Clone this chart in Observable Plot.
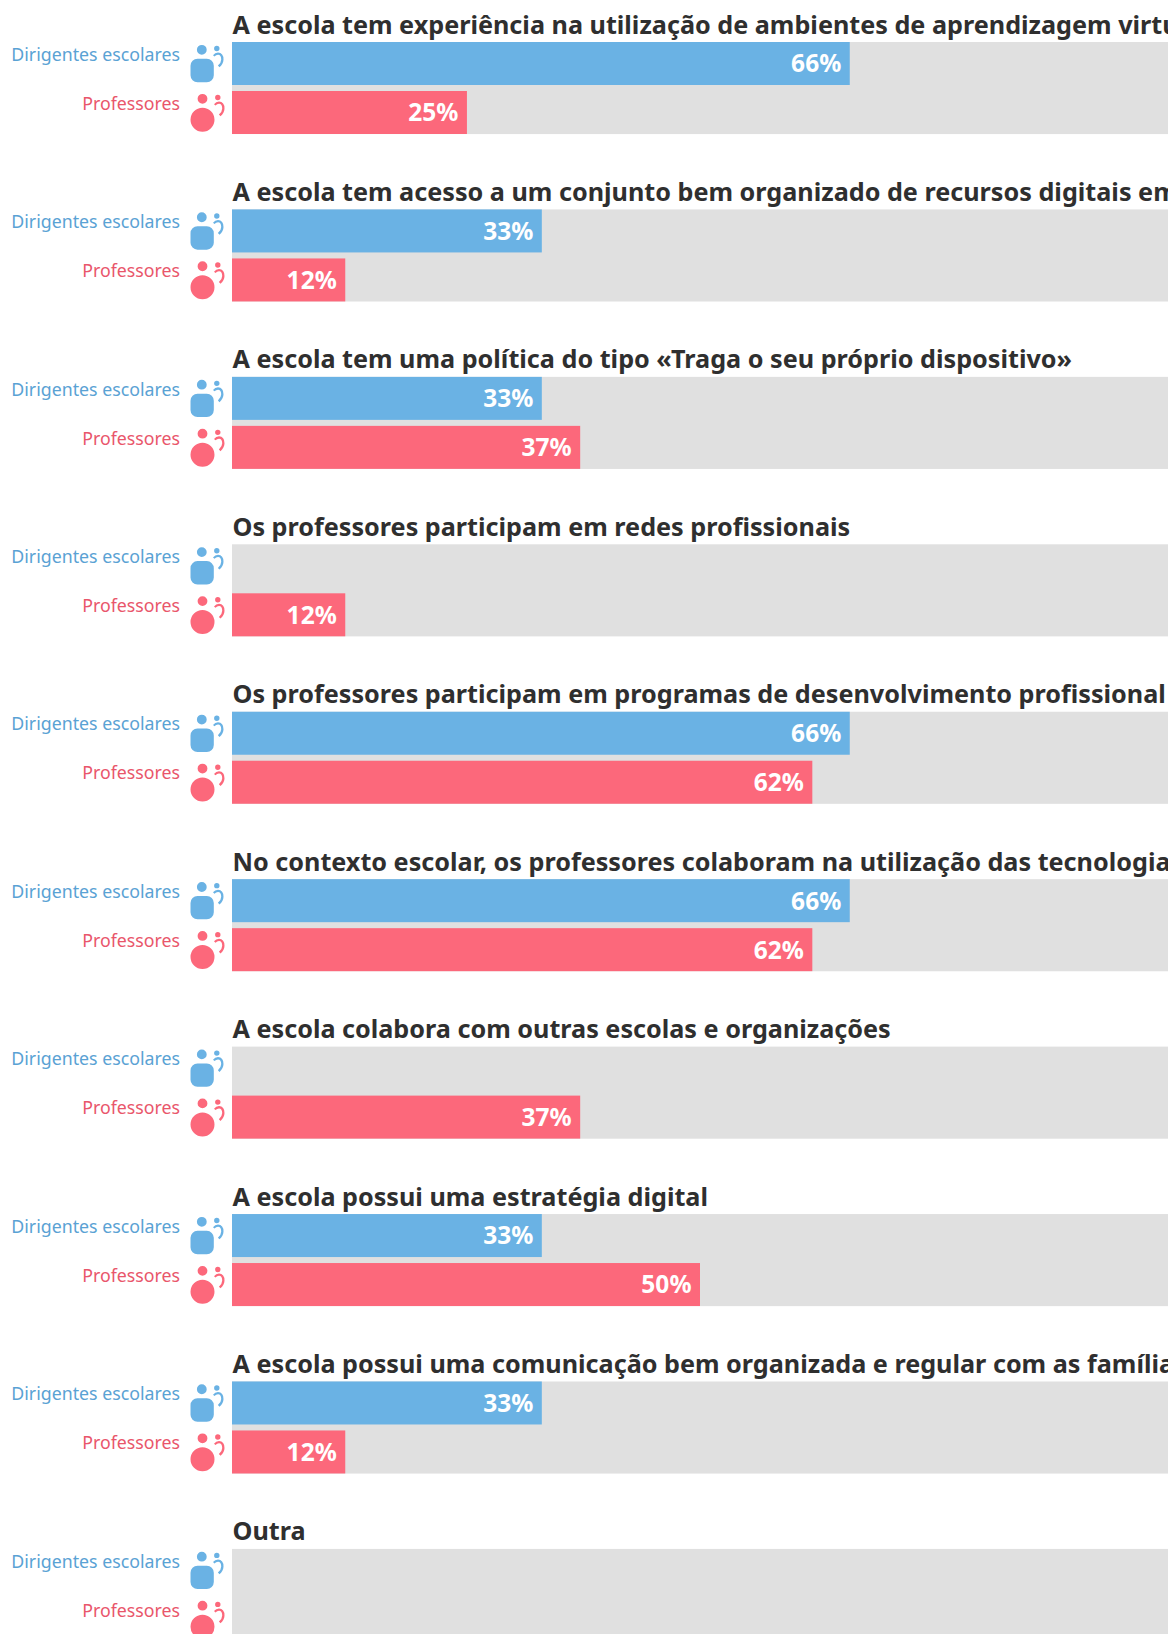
<!DOCTYPE html>
<html lang="pt">
<head>
<meta charset="utf-8">
<style>html,body{margin:0;padding:0;background:#fff;overflow:hidden}svg{display:block}</style>
<script src="https://cdn.jsdelivr.net/npm/d3@7"></script>
<script src="https://cdn.jsdelivr.net/npm/@observablehq/plot@0.6"></script>
</head>
<body>
<div id="chart"></div>
<script>
const questions = [
  "A escola tem experiência na utilização de ambientes de aprendizagem virtuais",
  "A escola tem acesso a um conjunto bem organizado de recursos digitais em linha",
  "A escola tem uma política do tipo «Traga o seu próprio dispositivo»",
  "Os professores participam em redes profissionais",
  "Os professores participam em programas de desenvolvimento profissional",
  "No contexto escolar, os professores colaboram na utilização das tecnologias digitais",
  "A escola colabora com outras escolas e organizações",
  "A escola possui uma estratégia digital",
  "A escola possui uma comunicação bem organizada e regular com as famílias",
  "Outra"
];
const seriesNames = ["Dirigentes escolares", "Professores"];
const dirigentes = [66, 33.1, 33.1, null, 66, 66, null, 33.1, 33.1, null];
const professores = [25.1, 12.1, 37.2, 12.1, 62, 62, 37.2, 50, 12.1, null];
const barColors = ["#6ab2e4", "#fc687b"];
const labelColors = ["#5aa2d4", "#e9566b"];

const rows = questions.flatMap((q, i) => [
  {q, s: seriesNames[0], v: dirigentes[i]},
  {q, s: seriesNames[1], v: professores[i]}
]);
const filled = rows.filter(d => d.v != null);

// Pictograms: drawn relative to the row's band centre at x = 0
function hook(c, o) {
  c.moveTo(-19.5 + o, -8.8);
  c.quadraticCurveTo(-17.5 + o, -11.5, -14.5 + o, -11.5);
  c.quadraticCurveTo(-9 + o, -11.2, -9 + o, -4.5);
  c.quadraticCurveTo(-9 + o, -0.5, -13 + o, 3.3);
  c.lineTo(-14.6 + o, 1.6);
  c.quadraticCurveTo(-11.3 + o, -1.2, -11.3 + o, -4.5);
  c.quadraticCurveTo(-11.3 + o, -9, -14.5 + o, -9.2);
  c.quadraticCurveTo(-16.5 + o, -9.2, -18 + o, -7.5);
  c.closePath();
}
function disc(c, cx, cy, r) {
  c.moveTo(cx + r, cy);
  c.arc(cx, cy, r, 0, 2 * Math.PI);
  c.closePath();
}
const headIcon = {draw(c) {
  disc(c, -30.7, -14.2, 4.9);
  disc(c, -15.7, -15.5, 2.7);
  hook(c, 0);
  const x0 = -42, x1 = -18.7, y0 = -5.2, y1 = 18.2, r = 7;
  c.moveTo(x0 + r, y0);
  c.arcTo(x1, y0, x1, y1, r);
  c.arcTo(x1, y1, x0, y1, r);
  c.arcTo(x0, y1, x0, y0, r);
  c.arcTo(x0, y0, x1, y0, r);
  c.closePath();
}};
const teacherIcon = {draw(c) {
  disc(c, -30, -14.2, 4.9);
  disc(c, -14.7, -15.5, 2.7);
  hook(c, 1);
  disc(c, -30, 6.8, 12);
}};

const font = "Noto Sans";
const chart = Plot.plot({
  width: 1168,
  height: 1634,
  margin: 0,
  style: {background: "#fff", fontFamily: font},
  x: {domain: [0, 100], range: [232, 1168], axis: null},
  y: {domain: seriesNames, range: [0, 92], paddingInner: 6 / 49, paddingOuter: 0, round: false, axis: null},
  fy: {domain: questions, range: [42, 1641], paddingInner: 0.45, paddingOuter: 0, round: false, axis: null, label: null},
  marks: [
    Plot.barX(questions, {x1: () => 0, x2: () => 100, fy: d => d, fill: "#e0e0e0"}),
    Plot.barX(filled, {x1: () => 0, x2: "v", y: "s", fy: "q", fill: d => barColors[seriesNames.indexOf(d.s)]}),
    Plot.text(filled, {
      x: "v", y: "s", fy: "q", text: d => `${Math.round(d.v)}%`, textAnchor: "end", dx: -9, dy: 0.5,
      fill: "#fff", fontSize: 24.5, fontWeight: 700, fontFamily: font
    }),
    Plot.text(questions, {
      fy: d => d, x: () => 0, text: d => d, frameAnchor: "top", lineAnchor: "bottom", textAnchor: "start",
      dy: -9, dx: 0, fill: "#2f2f2f", fontSize: 25.2, fontWeight: 700, fontFamily: font
    }),
    Plot.text(rows, {
      x: () => 0, y: "s", fy: "q", text: "s", textAnchor: "end", dx: -52.5, dy: -9,
      fill: d => labelColors[seriesNames.indexOf(d.s)], fontSize: 17.75, fontWeight: 400, fontFamily: font
    }),
    Plot.dot(rows.filter(d => d.s === seriesNames[0]), {
      x: () => 0, y: "s", fy: "q", symbol: headIcon, r: 1, fill: barColors[0], stroke: "none"
    }),
    Plot.dot(rows.filter(d => d.s === seriesNames[1]), {
      x: () => 0, y: "s", fy: "q", symbol: teacherIcon, r: 1, fill: barColors[1], stroke: "none"
    })
  ]
});
document.getElementById("chart").append(chart);
</script>
</body>
</html>
